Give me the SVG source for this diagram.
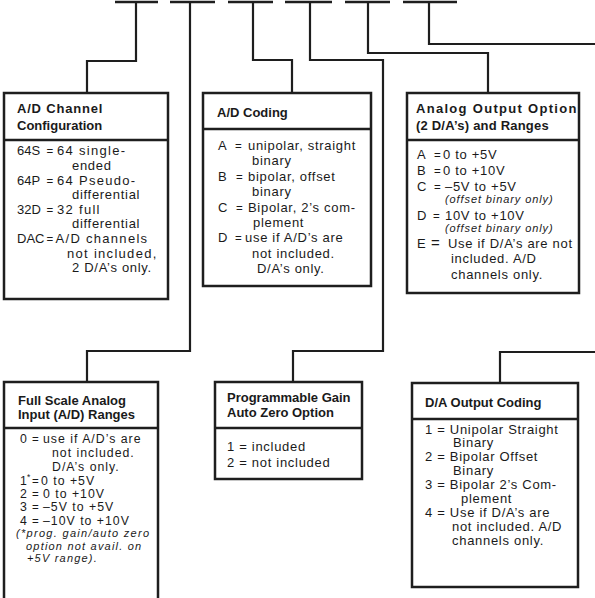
<svg xmlns="http://www.w3.org/2000/svg" width="595" height="598" viewBox="0 0 595 598">
  <style>
    .box { fill: #ffffff; stroke: #1e1e1e; stroke-width: 2.5; }
    .div { stroke: #1e1e1e; stroke-width: 2.5; }
    .wire { fill: none; stroke: #1e1e1e; stroke-width: 2.2; stroke-linejoin: miter; }
    .slot { stroke: #1e1e1e; stroke-width: 2.5; }
    text { font-family: "Liberation Sans", Arial, sans-serif; fill: #1a1a1a; }
    .hd { font-size: 13px; font-weight: bold; }
    .tx { font-size: 13px; letter-spacing: 0.7px; }
    .wd { letter-spacing: 1.3px; }
    .k { font-size: 13px; letter-spacing: 0; }
    .eq { font-size: 11.5px; }
    .sm { font-size: 12.3px; letter-spacing: 1px; }
    .nt { font-size: 11px; font-style: italic; letter-spacing: 0.9px; }
  </style>
  <rect x="0" y="0" width="595" height="598" fill="#ffffff"/>

  <!-- order code slots -->
  <g id="slots">
    <line class="slot" x1="115" y1="2" x2="158" y2="2"/>
    <line class="slot" x1="170" y1="2" x2="215" y2="2"/>
    <line class="slot" x1="228" y1="2" x2="273" y2="2"/>
    <line class="slot" x1="285" y1="2" x2="332" y2="2"/>
    <line class="slot" x1="345" y1="2" x2="390" y2="2"/>
    <line class="slot" x1="403" y1="2" x2="457" y2="2"/>
  </g>

  <!-- connectors from slots to option boxes -->
  <g id="connectors">
    <path class="wire" d="M136,2 V61 H87 V93"/>
    <path class="wire" d="M190,2 V351 H87 V382"/>
    <path class="wire" d="M253,2 V60 H292 V93"/>
    <path class="wire" d="M310,2 V60 H383 V351 H293 V382"/>
    <path class="wire" d="M368,2 V53 H488 V93"/>
    <path class="wire" d="M429,2 V44 H596"/>
    <path class="wire" d="M596,352 H500 V383"/>
  </g>

  <!-- A/D channel configuration -->
  <g id="node-channel-config">
    <rect class="box" x="4" y="93" width="164" height="206"/>
    <line class="div" x1="4" y1="140" x2="168" y2="140"/>
    <text class="hd" x="17" y="112.5" style="letter-spacing:0.8px">A/D Channel</text>
    <text class="hd" x="17" y="129.5">Configuration</text>
    <text class="k" x="17" y="155">64S</text><text class="k eq" x="46.5" y="155">=</text><text class="tx wd" x="57" y="155">64 single-</text>
    <text class="tx" x="72" y="170">ended</text>
    <text class="k" x="17" y="184.5">64P</text><text class="k eq" x="46.5" y="184.5">=</text><text class="tx wd" x="57" y="184.5">64 Pseudo-</text>
    <text class="tx" x="72" y="199">differential</text>
    <text class="k" x="17" y="213.5">32D</text><text class="k eq" x="46.5" y="213.5">=</text><text class="tx wd" x="57" y="213.5">32 full</text>
    <text class="tx" x="72" y="228">differential</text>
    <text class="k" x="17" y="243">DAC</text><text class="k eq" x="46.5" y="243">=</text><text class="tx wd" x="55.5" y="243">A/D channels</text>
    <text class="tx wd" x="67" y="257.5">not included,</text>
    <text class="tx" x="72" y="272">2 D/A’s only.</text>
  </g>

  <!-- A/D coding -->
  <g id="node-ad-coding">
    <rect class="box" x="203" y="93" width="168" height="193"/>
    <line class="div" x1="203" y1="129" x2="371" y2="129"/>
    <text class="hd" x="217" y="116.5">A/D Coding</text>
    <text class="tx" x="218" y="149.5">A</text><text class="k eq" x="235" y="149.5">=</text><text class="tx" x="248" y="149.5">unipolar, straight</text>
    <text class="tx" x="252" y="165">binary</text>
    <text class="tx" x="218" y="180.5">B</text><text class="k eq" x="236" y="180.5">=</text><text class="tx" x="248" y="180.5">bipolar, offset</text>
    <text class="tx" x="252" y="196">binary</text>
    <text class="tx" x="218" y="211.5">C</text><text class="k eq" x="236" y="211.5">=</text><text class="tx" x="248" y="211.5">Bipolar, 2’s com-</text>
    <text class="tx" x="253" y="226.5">plement</text>
    <text class="tx" x="218" y="242">D</text><text class="k eq" x="235" y="242">=</text><text class="tx" x="245" y="242">use if A/D’s are</text>
    <text class="tx" x="252" y="257.5">not included.</text>
    <text class="tx" x="257" y="273">D/A’s only.</text>
  </g>

  <!-- analog output option -->
  <g id="node-analog-output">
    <rect class="box" x="407" y="93" width="172" height="200"/>
    <line class="div" x1="407" y1="140" x2="579" y2="140"/>
    <text class="hd" x="416" y="112.5" style="letter-spacing:1.3px">Analog Output Option</text>
    <text class="hd" x="416" y="129.5" style="letter-spacing:0.2px">(2 D/A’s) and Ranges</text>
    <text class="tx" x="417" y="158.5">A</text><text class="k eq" x="434" y="158.5">=</text><text class="tx" x="443" y="158.5">0 to +5V</text>
    <text class="tx" x="417" y="174.5">B</text><text class="k eq" x="434" y="174.5">=</text><text class="tx" x="443" y="174.5">0 to +10V</text>
    <text class="tx" x="417" y="190.5">C</text><text class="k eq" x="434" y="190.5">=</text><text class="tx" x="445" y="190.5">–5V to +5V</text>
    <text class="nt" x="445" y="203">(offset binary only)</text>
    <text class="tx" x="417" y="219.5">D</text><text class="k eq" x="433" y="219.5">=</text><text class="tx" x="445" y="219.5">10V to +10V</text>
    <text class="nt" x="445" y="232">(offset binary only)</text>
    <text class="tx" x="417" y="247.5">E</text><text class="k" x="431" y="247.5" style="font-size:15px">=</text><text class="tx" x="448" y="247.5">Use if D/A’s are not</text>
    <text class="tx" x="451" y="262.5">included. A/D</text>
    <text class="tx" x="451" y="278.5">channels only.</text>
  </g>

  <!-- full scale analog input ranges -->
  <g id="node-input-ranges">
    <path class="box" d="M4,610 V382 H158 V610"/>
    <line class="div" x1="4" y1="428" x2="158" y2="428"/>
    <text class="hd" x="18" y="404.5">Full Scale Analog</text>
    <text class="hd" x="18" y="419">Input (A/D) Ranges</text>
    <text class="sm" x="20" y="443">0</text><text class="k eq" x="32" y="443">=</text><text class="sm" x="43" y="443">use if A/D’s are</text>
    <text class="sm" x="52" y="457">not included.</text>
    <text class="sm" x="52" y="471">D/A’s only.</text>
    <text class="sm" x="20" y="484.5">1</text><text class="k" x="27" y="480" style="font-size:8.5px">*</text><text class="k eq" x="32" y="484.5">=</text><text class="sm" x="41" y="484.5">0 to +5V</text>
    <text class="sm" x="20" y="498">2</text><text class="k eq" x="32" y="498">=</text><text class="sm" x="43" y="498">0 to +10V</text>
    <text class="sm" x="20" y="511">3</text><text class="k eq" x="32" y="511">=</text><text class="sm" x="43" y="511">–5V to +5V</text>
    <text class="sm" x="20" y="524.5">4</text><text class="k eq" x="32" y="524.5">=</text><text class="sm" x="43" y="524.5">–10V to +10V</text>
    <text class="nt" x="16" y="537" style="letter-spacing:1.3px">(*prog. gain/auto zero</text>
    <text class="nt" x="26" y="549.5" style="letter-spacing:1.2px">option not avail. on</text>
    <text class="nt" x="27" y="561.5" style="letter-spacing:1.2px">+5V range).</text>
  </g>

  <!-- programmable gain / auto zero -->
  <g id="node-pga">
    <rect class="box" x="215" y="382" width="147" height="97"/>
    <line class="div" x1="215" y1="428" x2="362" y2="428"/>
    <text class="hd" x="227" y="401.5">Programmable Gain</text>
    <text class="hd" x="227" y="416.5">Auto Zero Option</text>
    <text class="tx" x="227" y="450.5">1 = included</text>
    <text class="tx" x="227" y="466.5">2 = not included</text>
  </g>

  <!-- D/A output coding -->
  <g id="node-da-coding">
    <rect class="box" x="412" y="383" width="166" height="204"/>
    <line class="div" x1="412" y1="419" x2="578" y2="419"/>
    <text class="hd" x="425" y="406.5">D/A Output Coding</text>
    <text class="tx" x="425" y="433.5">1 = Unipolar Straight</text>
    <text class="tx" x="453" y="447.4">Binary</text>
    <text class="tx" x="425" y="461.3">2 = Bipolar Offset</text>
    <text class="tx" x="453" y="475.2">Binary</text>
    <text class="tx" x="425" y="489.1">3 = Bipolar 2’s Com-</text>
    <text class="tx" x="461" y="503">plement</text>
    <text class="tx" x="425" y="516.9">4 = Use if D/A’s are</text>
    <text class="tx" x="452" y="530.8">not included. A/D</text>
    <text class="tx" x="452" y="544.7">channels only.</text>
  </g>
</svg>
